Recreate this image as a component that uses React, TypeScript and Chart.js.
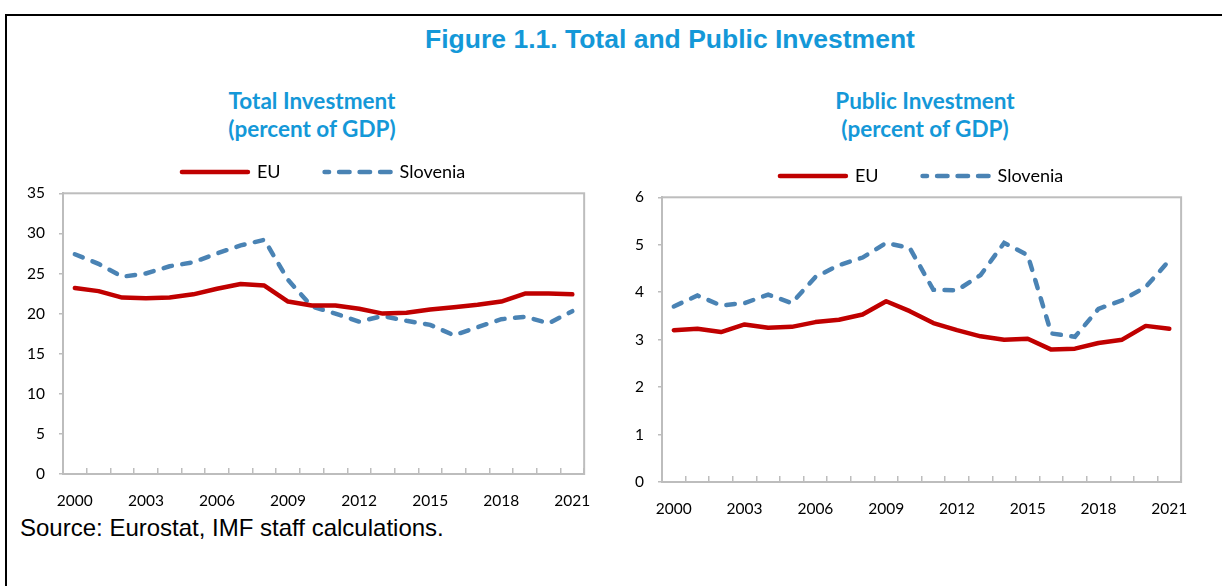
import React, { useEffect, useRef } from 'react';
import { Chart, registerables } from 'chart.js';

Chart.register(...registerables);

const years = ['2000', '2001', '2002', '2003', '2004', '2005', '2006', '2007', '2008', '2009', '2010',
  '2011', '2012', '2013', '2014', '2015', '2016', '2017', '2018', '2019', '2020', '2021'];

const totalEU = [23.2, 22.8, 22.0, 21.9, 22.0, 22.4, 23.1, 23.7, 23.5, 21.5, 21.0, 21.0, 20.6, 20.0, 20.1, 20.5, 20.8, 21.1, 21.5, 22.5, 22.5, 22.4];
const totalSlovenia = [27.4, 26.2, 24.6, 25.0, 25.9, 26.4, 27.5, 28.5, 29.2, 24.2, 20.9, 20.0, 19.0, 19.7, 19.1, 18.6, 17.3, 18.3, 19.3, 19.6, 18.8, 20.3];
const publicEU = [3.20, 3.23, 3.16, 3.32, 3.25, 3.27, 3.37, 3.42, 3.53, 3.81, 3.60, 3.35, 3.20, 3.07, 3.00, 3.02, 2.79, 2.81, 2.93, 3.00, 3.29, 3.23];
const publicSlovenia = [3.70, 3.93, 3.72, 3.77, 3.95, 3.77, 4.32, 4.57, 4.73, 5.04, 4.93, 4.05, 4.04, 4.36, 5.04, 4.78, 3.13, 3.06, 3.65, 3.83, 4.11, 4.67];

const seriesNames = ['EU', 'Slovenia'];
const mainTitle = 'Figure 1.1. Total and Public Investment';
const leftTitle = ['Total Investment', '(percent of GDP)'];
const rightTitle = ['Public Investment', '(percent of GDP)'];
const sourceText = 'Source: Eurostat, IMF staff calculations.';

const RED = '#C00000';
const BLUE = '#4A83B4';
const AXIS = '#BDBDBD';
const TITLE_BLUE = '#1498D8';
const FONT = 'Lato, "Open Sans", sans-serif';
const DATA_DASH = [8.5, 10.5];
const LEGEND_DASH = [10.5, 10];

const plotBox = {
  id: 'plotBox',
  beforeDatasetsDraw(chart: any) {
    const { ctx, chartArea: a } = chart;
    ctx.save();
    ctx.strokeStyle = AXIS;
    ctx.lineWidth = 2;
    ctx.strokeRect(a.left, a.top, a.right - a.left, a.bottom - a.top);
    ctx.restore();
  },
};

type Props = {
  left: number; top: number; width: number; height: number;
  eu: number[]; slo: number[]; yMax: number; yStep: number;
  yAxisWidth: number; padRight: number;
};

function LineChart(p: Props) {
  const ref = useRef<HTMLCanvasElement>(null);
  useEffect(() => {
    const chart = new Chart(ref.current as HTMLCanvasElement, {
      type: 'line',
      data: {
        labels: years,
        datasets: [
          {
            label: seriesNames[0], data: p.eu, borderColor: RED, backgroundColor: RED,
            borderWidth: 4.5, pointRadius: 0, tension: 0, fill: false, borderCapStyle: 'round', borderJoinStyle: 'round',
          },
          {
            label: seriesNames[1], data: p.slo, borderColor: BLUE, backgroundColor: BLUE,
            borderWidth: 4.5, borderDash: DATA_DASH, borderCapStyle: 'round', pointRadius: 0, tension: 0, fill: false,
          },
        ],
      },
      options: {
        responsive: false,
        animation: false,
        layout: { padding: { left: 0, right: p.padRight, top: 0, bottom: 0 } },
        plugins: {
          legend: {
            position: 'top', align: 'center', fullSize: false,
            labels: {
              usePointStyle: true, pointStyle: 'line', pointStyleWidth: 66,
              font: { family: FONT, size: 18 }, color: '#000', padding: 44,
              generateLabels: (ch: any) => ch.data.datasets.map((ds: any, i: number) => ({
                text: ds.label,
                fillStyle: ds.borderColor,
                strokeStyle: ds.borderColor,
                fontColor: '#000',
                lineWidth: ds.borderWidth,
                lineCap: 'round',
                lineDash: i === 1 ? LEGEND_DASH : [],
                lineDashOffset: i === 1 ? 6 : 0,
                pointStyle: 'line',
                hidden: false,
                datasetIndex: i,
              })),
            },
          },
          title: { display: false },
          tooltip: { enabled: false },
        },
        scales: {
          x: {
            type: 'category', position: 'bottom', offset: true,
            grid: { offset: true, drawOnChartArea: false, drawTicks: true, tickLength: -6, color: AXIS, lineWidth: 1.5 },
            border: { color: AXIS, width: 2 },
            ticks: {
              autoSkip: false, maxRotation: 0, minRotation: 0, padding: 24, color: '#000',
              font: { family: FONT, size: 15.5 },
              callback: function (this: any, value: any, index: number) {
                return index % 3 === 0 ? this.getLabelForValue(value) : '';
              },
            },
            afterFit: (s: any) => { s.height = 40; },
          },
          xTop: {
            type: 'category', position: 'top', display: true,
            ticks: { display: false }, grid: { display: false, drawTicks: false }, border: { display: false },
            afterFit: (s: any) => { s.height = 2.3; },
          },
          y: {
            type: 'linear', position: 'left', min: 0, max: p.yMax,
            grid: { drawOnChartArea: false, drawTicks: true, tickLength: 4, color: AXIS, lineWidth: 1.5 },
            border: { color: AXIS, width: 2 },
            ticks: { stepSize: p.yStep, padding: 14, color: '#000', font: { family: FONT, size: 15.5 } },
            afterFit: (s: any) => { s.width = p.yAxisWidth; },
          },
        },
      },
      plugins: [plotBox],
    } as any);
    return () => chart.destroy();
  }, []);
  return (
    <canvas
      ref={ref}
      width={p.width}
      height={p.height}
      style={{ position: 'absolute', left: p.left, top: p.top, width: p.width, height: p.height }}
    />
  );
}

function SubTitle({ lines, center }: { lines: string[]; center: number }) {
  return (
    <div style={{
      position: 'absolute', left: center - 150, top: 87, width: 300, textAlign: 'center',
      fontFamily: FONT, fontWeight: 700, fontSize: 22.5, lineHeight: '27.5px', color: TITLE_BLUE,
      whiteSpace: 'nowrap',
    }}>
      {lines.map((l, i) => <div key={i}>{l}</div>)}
    </div>
  );
}

export default function App() {
  return (
    <div style={{ position: 'absolute', left: 0, top: 0, width: 1222, height: 586, background: '#fff', overflow: 'hidden' }}>
      <div style={{
        position: 'absolute', left: 5, top: 14, width: 1230, height: 600,
        borderTop: '2.5px solid #000', borderLeft: '2.5px solid #000',
      }} />
      <div style={{
        position: 'absolute', left: 370, top: 23.5, width: 600, textAlign: 'center',
        fontFamily: '"Liberation Sans", Arial, sans-serif', fontWeight: 700, fontSize: 26.5, lineHeight: '30px',
        color: TITLE_BLUE, whiteSpace: 'nowrap',
      }}>{mainTitle}</div>
      <SubTitle lines={leftTitle} center={312} />
      <SubTitle lines={rightTitle} center={925} />
      <LineChart left={15} top={119} width={600} height={395} eu={totalEU} slo={totalSlovenia}
        yMax={35} yStep={5} yAxisWidth={48} padRight={21} />
      <LineChart left={620} top={123} width={592} height={399} eu={publicEU} slo={publicSlovenia}
        yMax={6} yStep={1} yAxisWidth={42} padRight={20} />
      <div style={{
        position: 'absolute', left: 20, top: 514, fontFamily: '"Liberation Sans", Arial, sans-serif',
        fontSize: 24, lineHeight: '28px', color: '#000', whiteSpace: 'nowrap',
      }}>{sourceText}</div>
    </div>
  );
}
